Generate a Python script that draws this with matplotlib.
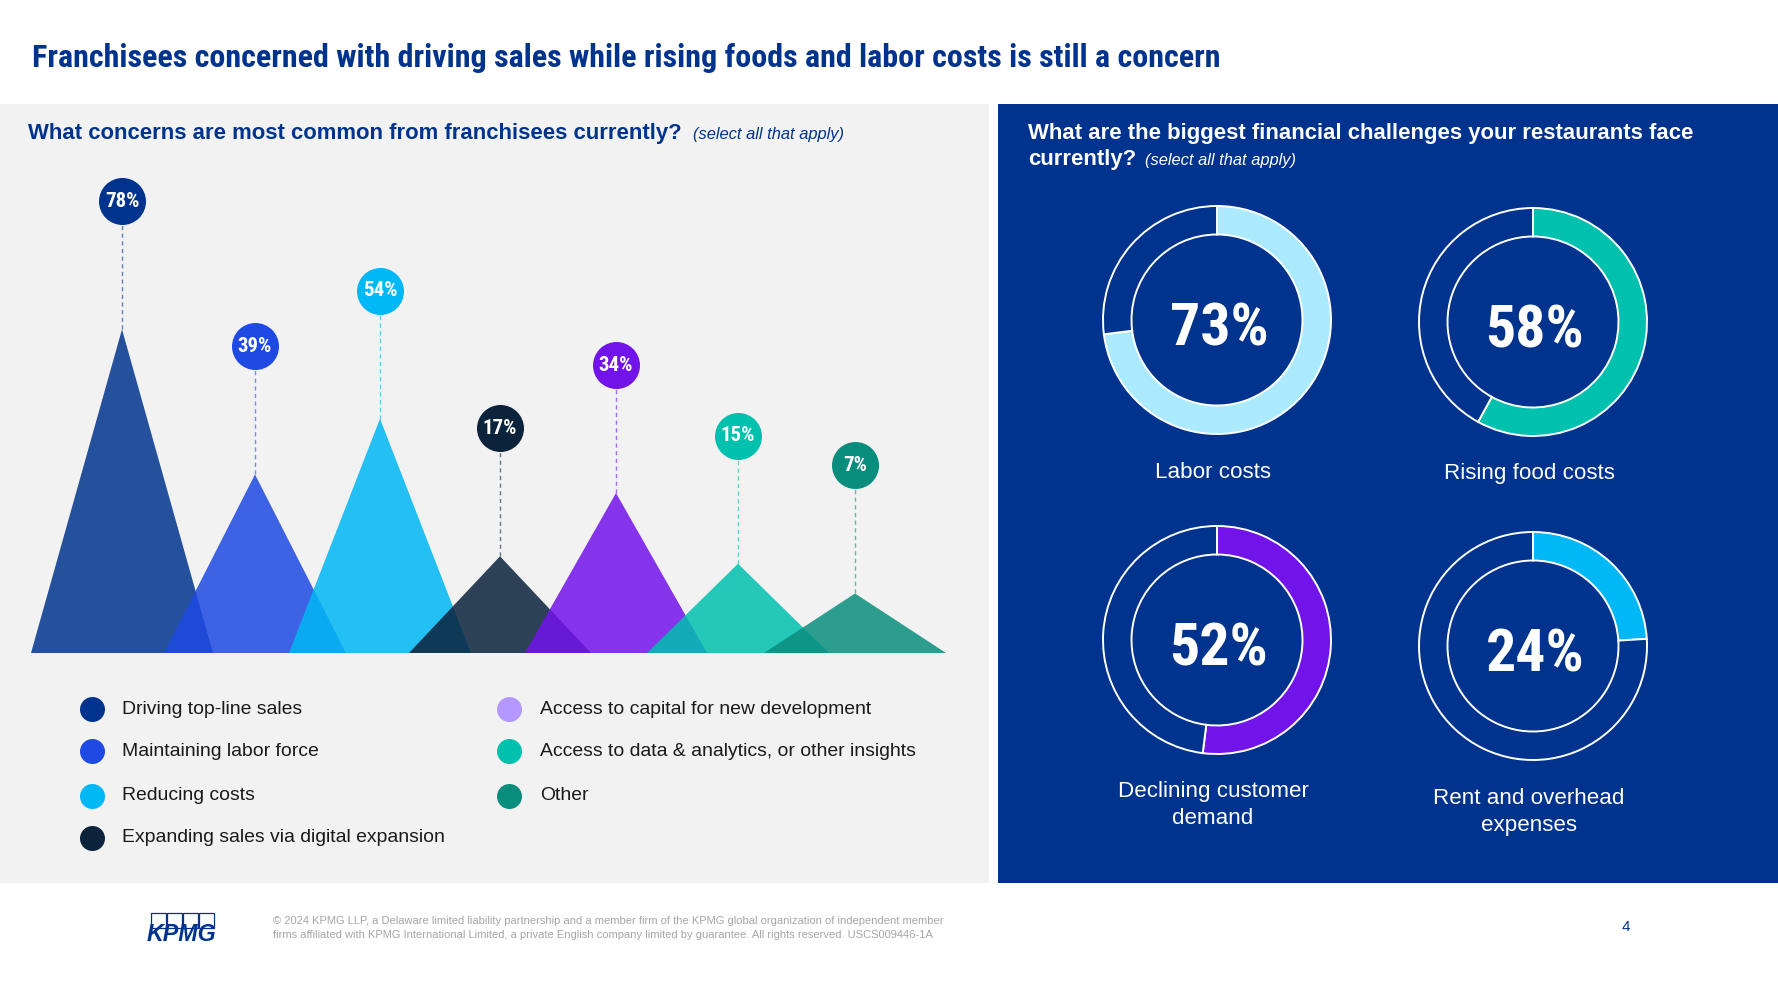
import matplotlib
matplotlib.use('Agg')
import matplotlib.pyplot as plt
from matplotlib import font_manager as fm
from matplotlib.patches import Rectangle

# ---------------- data ----------------
concern_labels = ["Driving top-line sales", "Maintaining labor force", "Reducing costs",
                  "Expanding sales via digital expansion", "Access to capital for new development",
                  "Access to data & analytics, or other insights", "Other"]
concern_values = [78, 39, 54, 17, 34, 15, 7]
concern_colors = ["#00338D", "#1E49E2", "#00B8F5", "#0C233C", "#7213EA", "#00C0AE", "#098E7E"]
legend_colors = ["#00338D", "#1E49E2", "#00B8F5", "#0C233C", "#B497FF", "#00C0AE", "#098E7E"]

challenge_labels = ["Labor costs", "Rising food costs", "Declining customer\ndemand",
                    "Rent and overhead\nexpenses"]
challenge_values = [73, 58, 52, 24]
challenge_colors = ["#ACEAFF", "#00C0AE", "#7213EA", "#00B8F5"]

title = "Franchisees concerned with driving sales while rising foods and labor costs is still a concern"
left_q = "What concerns are most common from franchisees currently?"
right_q1 = "What are the biggest financial challenges your restaurants face"
right_q2 = "currently?"
note = "(select all that apply)"
footer1 = ("\u00a9 2024 KPMG LLP, a Delaware limited liability partnership and a member firm of the "
           "KPMG global organization of independent member")
footer2 = ("firms affiliated with KPMG International Limited, a private English company limited by "
           "guarantee. All rights reserved. USCS009446-1A")

# ---------------- fonts ----------------
def pick(names, default='DejaVu Sans'):
    for n in names:
        try:
            fm.findfont(fm.FontProperties(family=n), fallback_to_default=False)
            return n
        except Exception:
            pass
    return default

COND = pick(['Roboto Condensed', 'Liberation Sans Narrow', 'Open Sans Condensed', 'Liberation Sans'])
SANS = pick(['Liberation Sans', 'Arial', 'DejaVu Sans'])

NAVY = "#00338D"
W, H = 1778, 1000
fig = plt.figure(figsize=(W / 100, H / 100), dpi=100)
renderer = fig.canvas.get_renderer()


def fit(t, target):
    w = t.get_window_extent(renderer).width
    t.set_fontsize(t.get_fontsize() * target / w)
    return t.get_fontsize()


# background / pixel axes
bg = fig.add_axes([0, 0, 1, 1])
bg.set_xlim(0, W)
bg.set_ylim(H, 0)
bg.axis('off')
bg.add_patch(Rectangle((0, 104), 989, 779, fc='#F2F2F2', ec='none', zorder=0))
bg.add_patch(Rectangle((998, 104), 780, 779, fc=NAVY, ec='none', zorder=0))

# title
t = bg.text(32, 67, title, family=[COND, 'DejaVu Sans'], fontweight='bold', fontstretch='condensed',
            color=NAVY, fontsize=28, va='baseline', ha='left')
fit(t, 1187)

# left question
t = bg.text(28, 133, left_q, family=SANS, fontweight='bold', color=NAVY, fontsize=15,
            va='center', ha='left')
fs_q = fit(t, 657)
t = bg.text(693, 135, note, family=SANS, style='italic', color=NAVY, fontsize=11,
            va='center', ha='left')
fit(t, 152)

# right question
t = bg.text(1028, 133, right_q1, family=SANS, fontweight='bold', color='white', fontsize=15,
            va='center', ha='left')
fs_r = fit(t, 670)
t = bg.text(1028, 159, right_q2, family=SANS, fontweight='bold', color='white', fontsize=fs_r,
            va='center', ha='left')
t = bg.text(1145, 161, note, family=SANS, style='italic', color='white', fontsize=11,
            va='center', ha='left')
fit(t, 151)

# ---------------- triangle chart ----------------
peak_x = [122, 255, 380, 500, 616, 738, 855]
half_w = 91
base_px, top_px = 653, 150
px_per_unit = 3.72
base_offset = 9.0
bubble_gap = 128 / px_per_unit

tax = fig.add_axes([0, (H - base_px) / H, 1000 / W, (base_px - top_px) / H])
tax.set_xlim(0, 1000)
tax.set_ylim(0, (base_px - top_px) / px_per_unit)
tax.axis('off')
for i, (v, c) in enumerate(zip(concern_values, concern_colors)):
    x = peak_x[i]
    apex = v + base_offset
    tax.fill([x - half_w, x, x + half_w], [0, apex, 0], color=c, alpha=0.85, lw=0, zorder=2 + i * 0.01)
    by = apex + bubble_gap
    tax.plot([x, x], [apex, by], ls=(0, (3, 2.5)), color=c, alpha=0.6, lw=1.0, zorder=1)
    tax.scatter([x], [by], s=1145, color=c, linewidths=0, zorder=5)
    tax.text(x, by, f"{v}%", family=[COND, 'DejaVu Sans'], fontweight='bold', fontstretch='condensed',
             color='white', fontsize=15, ha='center', va='center', zorder=6)

# ---------------- legend ----------------
rows = [709, 751, 796, 838]
cols = [(92, 122), (509, 540)]
fs_leg = None
for i, (lab, c) in enumerate(zip(concern_labels, legend_colors)):
    col = 0 if i < 4 else 1
    r = i if i < 4 else i - 4
    dx, tx = cols[col]
    bg.scatter([dx], [rows[r]], s=324, color=c, linewidths=0, zorder=3)
    t = bg.text(tx, rows[r], lab, family=SANS, color='#1A1A1A', fontsize=fs_leg or 14,
                ha='left', va='center', zorder=3)
    if fs_leg is None:
        fs_leg = fit(t, 181)

# ---------------- donuts ----------------
donut_centers = [(1217, 320), (1533, 322), (1217, 640), (1533, 646)]
r_out, ring = 114, 28.5
half = 122
fs_lab = None
for (cx, cy), v, c, lab in zip(donut_centers, challenge_values, challenge_colors, challenge_labels):
    dax = fig.add_axes([(cx - half) / W, (H - cy - half) / H, 2 * half / W, 2 * half / H])
    dax.pie([v, 100 - v], colors=[c, NAVY], startangle=90, counterclock=False, radius=1,
            wedgeprops=dict(width=ring / r_out, edgecolor='white', linewidth=1.4))
    lim = half / r_out
    dax.set_xlim(-lim, lim)
    dax.set_ylim(-lim, lim)
    dax.set_aspect('equal')
    dax.axis('off')
    bg.text(cx + 2, cy + 25, f"{v}%", family=[COND, 'DejaVu Sans'], fontweight='bold',
            fontstretch='condensed', color='white', fontsize=43, ha='center', va='baseline', zorder=5)
    for k, line in enumerate(lab.split('\n')):
        t = bg.text(cx - 4, cy + 152 + 27 * k, line, family=SANS, color='white',
                    fontsize=fs_lab or 16, ha='center', va='center', zorder=5)
        if fs_lab is None:
            fs_lab = fit(t, 116)

# ---------------- footer ----------------
for k in range(4):
    bg.add_patch(Rectangle((151 + k * 16, 913), 15, 15, fc='none', ec=NAVY, lw=0.9, zorder=3))
t = bg.text(147, 941, "KPMG", family=SANS, fontweight='bold', style='italic', color=NAVY,
            fontsize=16, ha='left', va='baseline', zorder=4)
fit(t, 70)
t = bg.text(273, 921.5, footer1, family=SANS, color='#A6A6A6', fontsize=8, ha='left', va='center')
fs_f = fit(t, 670)
bg.text(273, 934.5, footer2, family=SANS, color='#A6A6A6', fontsize=fs_f, ha='left', va='center')
bg.text(1626, 927, "4", family=SANS, color=NAVY, fontsize=11, ha='center', va='center')

fig.savefig('out.png', dpi=100)
